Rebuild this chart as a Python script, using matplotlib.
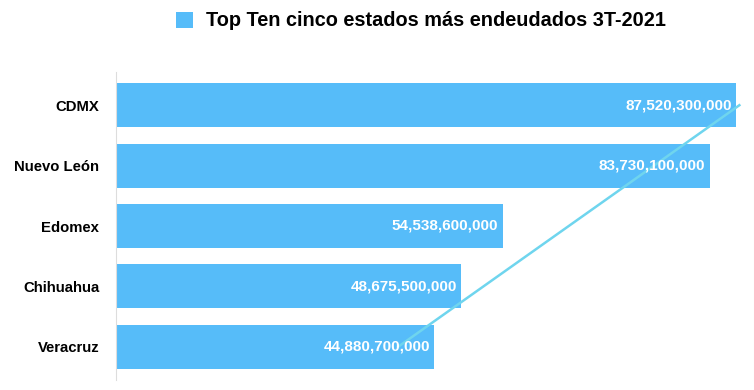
import numpy as np
import matplotlib.pyplot as plt

plt.rcParams['font.family'] = ['Liberation Sans', 'DejaVu Sans']

# data
estados = ["CDMX", "Nuevo León", "Edomex", "Chihuahua", "Veracruz"]
deuda = [87520300000, 83730100000, 54538600000, 48675500000, 44880700000]
serie = "Top Ten cinco estados más endeudados 3T-2021"

fig = plt.figure(figsize=(7.54, 3.9), dpi=100)
ax = fig.add_axes([116 / 754, 1 - 380 / 390, 638 / 754, 308 / 390])

pos = np.arange(len(estados))
bars = ax.barh(pos, deuda, height=0.73, color="#56BCF9", label=serie, zorder=2)

# value labels inside the bar ends
for y, v in zip(pos, deuda):
    ax.text(v - 0.6e9, y, f"{v:,}", ha="right", va="center",
            color="white", fontsize=11, fontweight="bold", zorder=5)

# linear trend line
coef = np.polyfit(pos, deuda, 1)
ax.plot(np.polyval(coef, pos), pos, color="#6FD5EE", lw=1.8, zorder=3)

ax.set_xlim(0, 90e9)
ax.set_ylim(4.55, -0.55)
ax.set_yticks(pos)
ax.set_yticklabels(estados, fontsize=10.7, fontweight="bold")
ax.tick_params(axis="y", length=0, pad=12)
ax.set_xticks([])

for side in ["top", "bottom"]:
    ax.spines[side].set_visible(False)
ax.spines["left"].set_color("#dddddd")
ax.spines["right"].set_color("#eeeeee")

fig.legend(handles=[bars], labels=[serie], loc="center",
           bbox_to_anchor=(421 / 754, 1 - 21 / 390), frameon=False,
           prop={"size": 14.3, "weight": "bold"}, handlelength=0.85,
           handleheight=0.85, handletextpad=0.7)

fig.savefig("out.png", dpi=100)
plt.close()
